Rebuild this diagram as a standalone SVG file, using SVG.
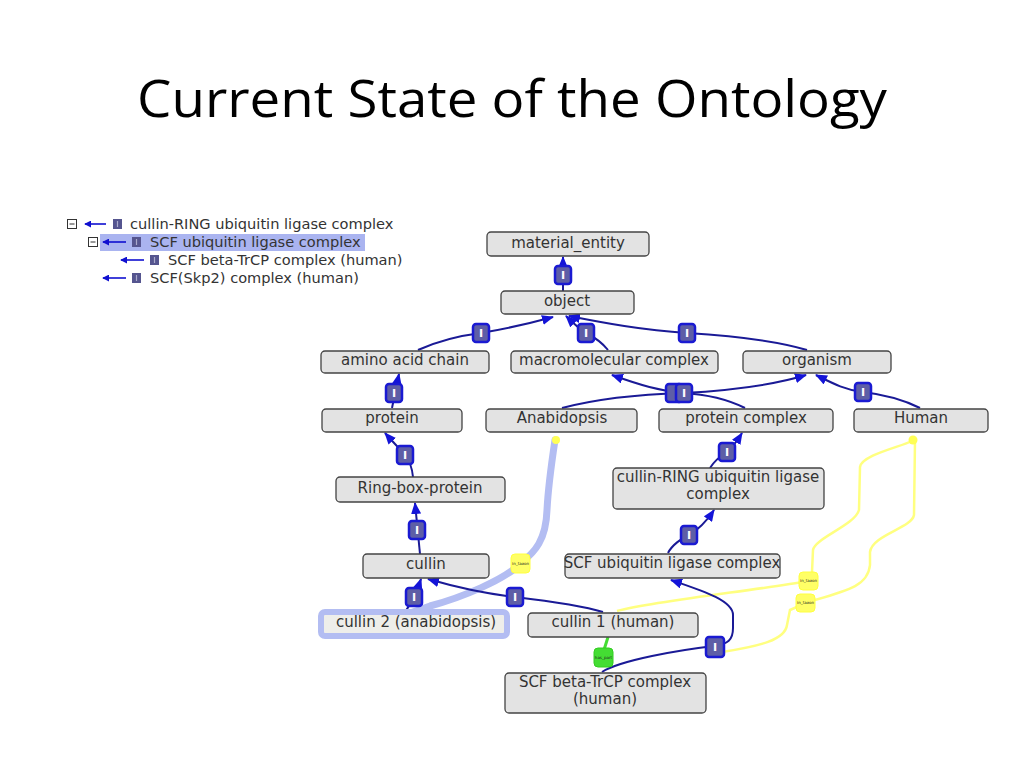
<svg xmlns="http://www.w3.org/2000/svg" width="1024" height="768" viewBox="0 0 1024 768">
<defs>
<style>
.title{font-family:"Open Sans","Liberation Sans",Arial,sans-serif;font-size:52px;fill:#000}
.tree{font-family:"DejaVu Sans","Liberation Sans",sans-serif;font-size:14.6px;fill:#333}
.box{fill:#e3e3e3;stroke:#444;stroke-width:1.3}
.lbl{font-family:"DejaVu Sans","Liberation Sans",sans-serif;font-size:15px;fill:#333;text-anchor:middle}
.e{fill:none;stroke:#1a1a96;stroke-width:2}
.ir{fill:#5e5ea6;stroke:#1a1ad2;stroke-width:2.5}
.it{font-family:"DejaVu Sans","Liberation Sans",sans-serif;font-size:11px;font-weight:bold;fill:#fff;text-anchor:middle}
.y{fill:none;stroke:#ffff80;stroke-width:2.5}
.tagy{fill:#ffff66;stroke:#ffff40;stroke-width:1}
.tagg{fill:#44dd33;stroke:#33cc22;stroke-width:1}
.tt{font-family:"DejaVu Sans",sans-serif;font-size:4px;fill:#222;text-anchor:middle}
.ta{stroke:#1010d0;stroke-width:1.6;fill:none}
.ic{fill:#55558f}
</style>
<marker id="ah" viewBox="0 0 12 10" refX="11" refY="5" markerWidth="12" markerHeight="10" markerUnits="userSpaceOnUse" orient="auto">
<path d="M0,0 L12,5 L0,10 z" fill="#1414d8"/>
</marker>
<marker id="tah" viewBox="0 0 8 8" refX="1" refY="4" markerWidth="7" markerHeight="7" markerUnits="userSpaceOnUse" orient="auto">
<path d="M8,0 L0,4 L8,8 z" fill="#1010d0"/>
</marker>
</defs>
<rect width="1024" height="768" fill="#fff"/>
<text class="title" x="512" y="117" text-anchor="middle" textLength="750" lengthAdjust="spacingAndGlyphs">Current State of the Ontology</text>

<g id="tree">
<rect x="100" y="234" width="265" height="17" fill="#aab4f0"/>
<g id="row1">
<rect x="67.5" y="219.5" width="9" height="9" fill="#fff" stroke="#333" stroke-width="1"/>
<line x1="69.5" y1="224" x2="74.5" y2="224" stroke="#333" stroke-width="1"/>
<line x1="85" y1="224" x2="106" y2="224" class="ta" marker-start="url(#tah)"/>
<rect x="113" y="219" width="9" height="10" class="ic"/>
<line x1="117.5" y1="221" x2="117.5" y2="227" stroke="#aaaacc" stroke-width="1.2"/>
<text class="tree" x="130" y="229">cullin-RING ubiquitin ligase complex</text>
</g>
<g id="row2">
<rect x="88.5" y="237.5" width="9" height="9" fill="#fff" stroke="#333" stroke-width="1"/>
<line x1="90.5" y1="242" x2="95.5" y2="242" stroke="#333" stroke-width="1"/>
<line x1="103" y1="242" x2="126" y2="242" class="ta" marker-start="url(#tah)"/>
<rect x="132" y="237" width="9" height="10" class="ic"/>
<line x1="136.5" y1="239" x2="136.5" y2="245" stroke="#aaaacc" stroke-width="1.2"/>
<text class="tree" x="150" y="247">SCF ubiquitin ligase complex</text>
</g>
<g id="row3">
<line x1="121" y1="260" x2="144" y2="260" class="ta" marker-start="url(#tah)"/>
<rect x="150" y="255" width="9" height="10" class="ic"/>
<line x1="154.5" y1="257" x2="154.5" y2="263" stroke="#aaaacc" stroke-width="1.2"/>
<text class="tree" x="168" y="265">SCF beta-TrCP complex (human)</text>
</g>
<g id="row4">
<line x1="103" y1="278" x2="126" y2="278" class="ta" marker-start="url(#tah)"/>
<rect x="132" y="273" width="9" height="10" class="ic"/>
<line x1="136.5" y1="275" x2="136.5" y2="281" stroke="#aaaacc" stroke-width="1.2"/>
<text class="tree" x="150" y="283">SCF(Skp2) complex (human)</text>
</g>
</g>

<g id="extra-lines">
<path d="M555,440 C552,460 548,490 547,510 C546,540 535,552 521,563 C505,580 460,598 430,606 L410,613" fill="none" stroke="#b3bdf2" stroke-width="7" stroke-linecap="round"/>
<path class="y" d="M617,611 C660,600 760,590 808,581"/>
<path class="y" d="M812,572 L813,550 C815,538 855,525 859,510 L860,467 C862,455 900,447 912,441"/>
<path class="y" d="M722,652 C760,646 785,640 787,625 L790,610 L806,603"/>
<path class="y" d="M815,600 C850,590 868,585 870,565 L870,552 C872,535 912,528 914,515 L915,441"/>
<line x1="608" y1="637" x2="604" y2="650" stroke="#44dd33" stroke-width="3"/>
</g>

<g id="connectors">
<path class="e" d="M563,291 L563,257" marker-end="url(#ah)"/>
<path class="e" d="M418,350 C440,340 465,335 481,333 C510,328 535,322 553,317" marker-end="url(#ah)"/>
<path class="e" d="M608,350 C600,340 592,336 586,333 C578,328 572,322 566,316" marker-end="url(#ah)"/>
<path class="e" d="M807,350 C770,339 720,335 687,333 C640,330 600,322 569,316" marker-end="url(#ah)"/>
<path class="e" d="M392,408 L399,374" marker-end="url(#ah)"/>
<path class="e" d="M562,408 C600,398 650,394 683,393 C740,390 780,383 806,375" marker-end="url(#ah)"/>
<path class="e" d="M745,408 C725,398 700,394 683,393 C660,391 640,385 612,375" marker-end="url(#ah)"/>
<path class="e" d="M920,408 C900,398 880,394 863,392 C845,390 832,383 816,375" marker-end="url(#ah)"/>
<path class="e" d="M710,468 C715,460 722,455 727,452 C733,447 737,441 742,433" marker-end="url(#ah)"/>
<path class="e" d="M668,553 C672,545 682,538 689,535 C698,530 706,522 714,510" marker-end="url(#ah)"/>
<path class="e" d="M413,477 C412,466 409,460 405,455 C399,448 392,441 385,433" marker-end="url(#ah)"/>
<path class="e" d="M420,554 L415,503" marker-end="url(#ah)"/>
<path class="e" d="M405,612 C410,605 412,600 414,597 C417,590 419,585 421,579" marker-end="url(#ah)"/>
<path class="e" d="M603,612 C580,605 540,600 515,597 C480,593 452,586 428,579" marker-end="url(#ah)"/>
<path class="e" d="M602,672 C620,660 680,650 714,646 C728,644 733,640 733,628 L733,615 C733,600 700,590 671,580" marker-end="url(#ah)"/>
</g>

<g id="labels">
<rect class="ir" x="555" y="266" width="16" height="18" rx="3"/><text class="it" x="563" y="279">I</text>
<rect class="ir" x="473" y="324" width="16" height="18" rx="3"/><text class="it" x="481" y="337">I</text>
<rect class="ir" x="578" y="324" width="16" height="18" rx="3"/><text class="it" x="586" y="337">I</text>
<rect class="ir" x="679" y="324" width="16" height="18" rx="3"/><text class="it" x="687" y="337">I</text>
<rect class="ir" x="386" y="384" width="16" height="18" rx="3"/><text class="it" x="394" y="397">I</text>
<rect class="ir" x="666" y="384" width="16" height="18" rx="3"/>
<rect class="ir" x="676" y="384" width="16" height="18" rx="3"/><text class="it" x="684" y="397">I</text>
<rect class="ir" x="855" y="383" width="16" height="18" rx="3"/><text class="it" x="863" y="396">I</text>
<rect class="ir" x="719" y="443" width="16" height="18" rx="3"/><text class="it" x="727" y="456">I</text>
<rect class="ir" x="681" y="526" width="16" height="18" rx="3"/><text class="it" x="689" y="539">I</text>
<rect class="ir" x="397" y="446" width="16" height="18" rx="3"/><text class="it" x="405" y="459">I</text>
<rect class="ir" x="409" y="521" width="16" height="18" rx="3"/><text class="it" x="417" y="534">I</text>
<rect class="ir" x="406" y="588" width="16" height="18" rx="3"/><text class="it" x="414" y="601">I</text>
<rect class="ir" x="507" y="588" width="16" height="18" rx="3"/><text class="it" x="515" y="601">I</text>
<rect class="ir" x="706" y="637" width="18" height="20" rx="3"/><text class="it" x="715" y="651">I</text>
<rect class="tagy" x="511" y="554" width="19" height="19" rx="4"/><text class="tt" x="520.5" y="565">in_taxon</text>
<rect class="tagy" x="799" y="572" width="19" height="18" rx="4"/><text class="tt" x="808.5" y="582">in_taxon</text>
<rect class="tagy" x="796" y="594" width="19" height="18" rx="4"/><text class="tt" x="805.5" y="604">in_taxon</text>
<rect class="tagg" x="594" y="648" width="19" height="19" rx="4"/><text class="tt" x="603.5" y="659">has_part</text>
<circle cx="913" cy="440" r="4.5" fill="#ffff55"/>
<circle cx="556" cy="440" r="4" fill="#ffff55"/>
</g>

<g id="n-material"><rect class="box" x="487" y="232" width="162" height="24" rx="4"/><text class="lbl" x="568" y="248">material_entity</text></g>
<g id="n-object"><rect class="box" x="501" y="291" width="133" height="23" rx="4"/><text class="lbl" x="567" y="306">object</text></g>
<g id="n-amino"><rect class="box" x="321" y="351" width="168" height="22" rx="4"/><text class="lbl" x="405" y="365">amino acid chain</text></g>
<g id="n-macro"><rect class="box" x="511" y="351" width="207" height="22" rx="4"/><text class="lbl" x="614" y="365">macromolecular complex</text></g>
<g id="n-organism"><rect class="box" x="743" y="351" width="148" height="22" rx="4"/><text class="lbl" x="817" y="365">organism</text></g>
<g id="n-protein"><rect class="box" x="322" y="409" width="140" height="23" rx="4"/><text class="lbl" x="392" y="423">protein</text></g>
<g id="n-anab"><rect class="box" x="486" y="409" width="151" height="23" rx="4"/><text class="lbl" x="562" y="423">Anabidopsis</text></g>
<g id="n-pcomplex"><rect class="box" x="659" y="409" width="174" height="23" rx="4"/><text class="lbl" x="746" y="423">protein complex</text></g>
<g id="n-human"><rect class="box" x="854" y="409" width="134" height="23" rx="4"/><text class="lbl" x="921" y="423">Human</text></g>
<g id="n-ringbox"><rect class="box" x="336" y="477" width="169" height="25" rx="4"/><text class="lbl" x="420" y="493">Ring-box-protein</text></g>
<g id="n-crl"><rect class="box" x="613" y="468" width="211" height="41" rx="4"/><text class="lbl" x="718" y="482">cullin-RING ubiquitin ligase</text><text class="lbl" x="718" y="499">complex</text></g>
<g id="n-cullin"><rect class="box" x="363" y="554" width="126" height="24" rx="4"/><text class="lbl" x="426" y="569">cullin</text></g>
<g id="n-scf"><rect class="box" x="565" y="554" width="215" height="24" rx="4"/><text class="lbl" x="672" y="568">SCF ubiquitin ligase complex</text></g>
<g id="n-cullin2"><rect x="321" y="612" width="186" height="24" rx="4" fill="#eeeeea" stroke="#b3bdf2" stroke-width="6"/><text class="lbl" x="416" y="627">cullin 2 (anabidopsis)</text></g>
<g id="n-cullin1"><rect class="box" x="528" y="613" width="170" height="24" rx="4"/><text class="lbl" x="613" y="627">cullin 1 (human)</text></g>
<g id="n-scfbeta"><rect class="box" x="505" y="673" width="201" height="40" rx="4"/><text class="lbl" x="605" y="687">SCF beta-TrCP complex</text><text class="lbl" x="605" y="704">(human)</text></g>
</svg>
